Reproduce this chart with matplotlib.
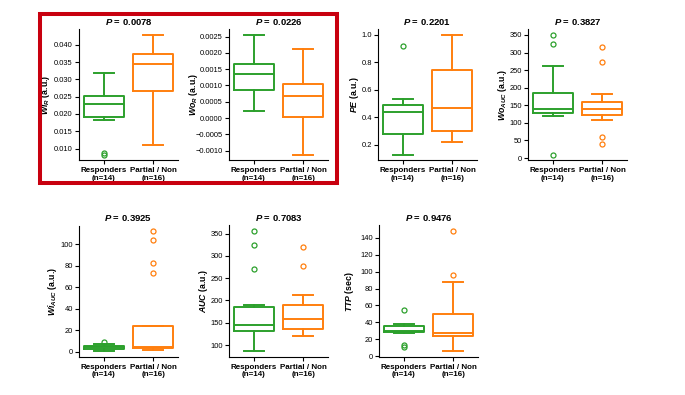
import matplotlib
matplotlib.use("Agg")
import matplotlib.pyplot as plt
from matplotlib.patches import Rectangle
from matplotlib.ticker import MultipleLocator
import numpy as np

plt.rcParams['font.family'] = ['Liberation Sans', 'DejaVu Sans']
plt.rcParams['mathtext.fontset'] = 'custom'
plt.rcParams['mathtext.rm'] = 'Liberation Sans'
plt.rcParams['mathtext.it'] = 'Liberation Sans:italic'
plt.rcParams['mathtext.bf'] = 'Liberation Sans:bold'
plt.rcParams['mathtext.bfit'] = 'Liberation Sans:bold:italic'

GROUPS = ["Responders\n(n=14)", "Partial / Non\n(n=16)"]
COLORS = ["#2ca02c", "#ff7f0e"]

# box stats: [whislo, q1, med, q3, whishi]
wiR_resp = [0.0183, 0.0190, 0.0230, 0.0252, 0.0318]
wiR_part = [0.0111, 0.0265, 0.0343, 0.0373, 0.0428]
wiR_fl = [[0.0083, 0.0088], []]

woR_resp = [0.00021, 0.00085, 0.00136, 0.00165, 0.00255]
woR_part = [-0.00112, 0.00003, 0.00068, 0.00104, 0.00213]
woR_fl = [[], []]

pe_resp = [0.130, 0.276, 0.436, 0.487, 0.531]
pe_part = [0.220, 0.302, 0.465, 0.745, 1.000]
pe_fl = [[0.92], []]

woA_resp = [119, 128, 139, 184, 262]
woA_part = [108, 123, 139, 158, 183]
woA_fl = [[350, 323, 10], [317, 274, 59, 41]]

wiA_resp = [0.5, 2.5, 4.0, 5.5, 7.0]
wiA_part = [1.5, 3.0, 4.5, 23.4, 23.4]
wiA_fl = [[8.7], [111.7, 103.4, 82.6, 73.4]]

auc_resp = [86.5, 132, 144, 186, 189]
auc_part = [120, 136, 158, 189, 213]
auc_fl = [[355, 325, 271], [320.6, 278.4]]

ttp_resp = [27, 28, 29.5, 36, 38.5]
ttp_part = [6, 24.2, 27.4, 50, 87.7]
ttp_fl = [[55, 13, 11], [147.5, 95.6]]

P_VALUES = ["0.0078", "0.0226", "0.2201", "0.3827", "0.3925", "0.7083", "0.9476"]
Y_LABELS = [r"$\mathbfit{Wi}_{\mathbfit{R}}$ (a.u.)",
            r"$\mathbfit{Wo}_{\mathbfit{R}}$ (a.u.)",
            r"$\mathbfit{PE}$ (a.u.)",
            r"$\mathbfit{Wo}_{\mathbfit{AUC}}$ (a.u.)",
            r"$\mathbfit{Wi}_{\mathbfit{AUC}}$ (a.u.)",
            r"$\mathbfit{AUC}$ (a.u.)",
            r"$\mathbfit{TTP}$ (sec)"]
Y_STEPS = [0.005, 0.0005, 0.2, 50, 20, 50, 20]

PANELS = [(wiR_resp, wiR_part, wiR_fl), (woR_resp, woR_part, woR_fl),
          (pe_resp, pe_part, pe_fl), (woA_resp, woA_part, woA_fl),
          (wiA_resp, wiA_part, wiA_fl), (auc_resp, auc_part, auc_fl),
          (ttp_resp, ttp_part, ttp_fl)]

W, H = 685, 395
fig = plt.figure(figsize=(W / 100, H / 100), dpi=100)

# pixel layout (left, top) of each axes, and x of the y label centre
LEFTS = [79, 229, 378, 528, 79, 229, 379]
TOPS = [29, 29, 29, 29, 225.5, 225.5, 225.5]
LABEL_X = [48, 196, 357, 505, 55, 206, 352]
AX_W, AX_H = 99, 131.5


def stats(s, fl):
    return {"whislo": s[0], "q1": s[1], "med": s[2], "q3": s[3], "whishi": s[4], "fliers": fl}


for i, (resp, part, fl) in enumerate(PANELS):
    ax = fig.add_axes([LEFTS[i] / W, 1 - (TOPS[i] + AX_H) / H, AX_W / W, AX_H / H])
    for j, s in enumerate([resp, part]):
        c = COLORS[j]
        ax.bxp([stats(s, fl[j])], positions=[j], widths=0.8, capwidths=0.4,
               manage_ticks=False,
               boxprops=dict(color=c, lw=1.4),
               medianprops=dict(color=c, lw=1.4),
               whiskerprops=dict(color=c, lw=1.4),
               capprops=dict(color=c, lw=1.4),
               flierprops=dict(marker="o", mfc="none", mec=c, ms=3.6, mew=0.9))
    ax.set_xlim(-0.5, 1.5)
    ax.set_xticks([0, 1])
    ax.set_xticklabels(GROUPS, fontsize=5.8, fontweight="bold", linespacing=1.1)
    ax.yaxis.set_major_locator(MultipleLocator(Y_STEPS[i]))
    ax.tick_params(axis="y", labelsize=5.4, length=3, width=0.8, pad=1.5)
    ax.tick_params(axis="x", length=3, width=0.8, pad=2)
    for sp in ["top", "right"]:
        ax.spines[sp].set_visible(False)
    for sp in ["left", "bottom"]:
        ax.spines[sp].set_linewidth(0.8)
    ax.set_ylabel(Y_LABELS[i], fontsize=6.3, fontweight="bold")
    # label anchor is its right edge; text is about 8 px thick
    ax.yaxis.set_label_coords((LABEL_X[i] + 4 - LEFTS[i]) / AX_W, 0.5)
    ax.set_title(r"$\mathbfit{P}$ = " + P_VALUES[i], fontsize=6.8,
                 fontweight="bold", pad=3)

# red frame around the first two panels
fig.add_artist(Rectangle((39.5 / W, 1 - 183 / H), (337 - 39.5) / W, (183 - 14.5) / H,
                         transform=fig.transFigure, fill=False, ec="#c8000f", lw=2.9))

fig.savefig("out.png", dpi=100)
